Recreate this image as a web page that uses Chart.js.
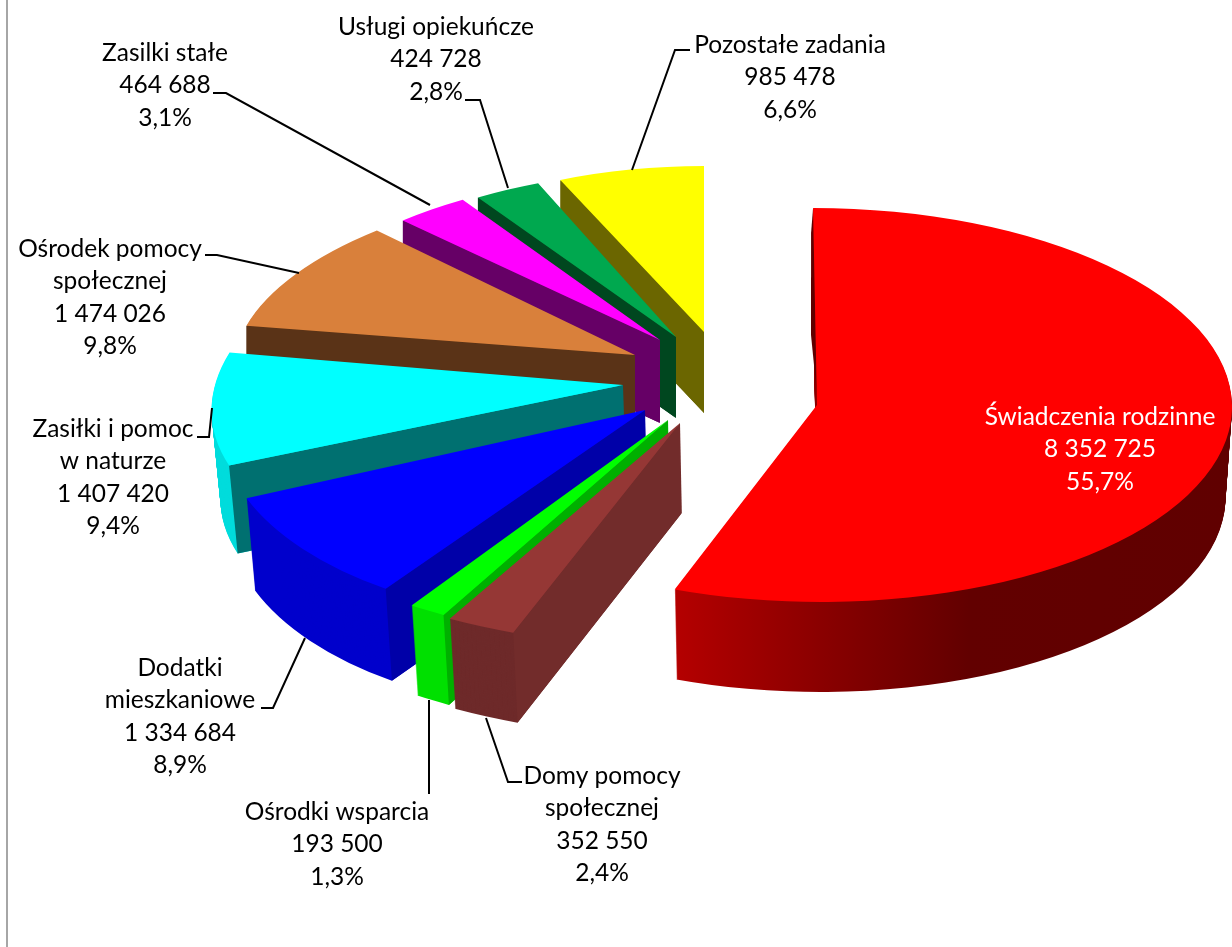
<!DOCTYPE html>
<html lang="pl">
<head>
    <meta charset="UTF-8">
    <title>Wydatki na zadania</title>
    <script src="https://cdn.jsdelivr.net/npm/chart.js"></script>
    <style>
        html, body { margin: 0; background: #fff; }
        canvas { display: block; }
    </style>
</head>
<body>
    <canvas id="pieChart" width="1232" height="947"></canvas>

    <script>
        const categories = ['Świadczenia rodzinne', 'Domy pomocy społecznej', 'Ośrodki wsparcia', 'Dodatki mieszkaniowe', 'Zasiłki i pomoc w naturze', 'Ośrodek pomocy społecznej', 'Zasilki stałe', 'Usługi opiekuńcze', 'Pozostałe zadania'];
        const values = [8352725, 352550, 193500, 1334684, 1407420, 1474026, 464688, 424728, 985478];

        // how the names break over lines in the labels
        const nameLines = [['Świadczenia rodzinne'], ['Domy pomocy', 'społecznej'], ['Ośrodki wsparcia'], ['Dodatki', 'mieszkaniowe'], ['Zasiłki i pomoc', 'w naturze'], ['Ośrodek pomocy', 'społecznej'], ['Zasilki stałe'], ['Usługi opiekuńcze'], ['Pozostałe zadania']];

        const topColors = ['#ff0000', '#953735', '#00ff00', '#0000ff', '#00ffff', '#d9803b', '#ff00ff', '#00a84f', '#ffff00'];
        const rimColors = [null, '#6e2a2a', '#00e000', '#0000cc', '#00dcdc', '#5a3317', '#660066', '#00471f', '#6b6600'];
        const cutColors = ['#600000', '#722c2b', '#00b000', '#0000a8', '#007070', '#5a3317', '#660066', '#00471f', '#6b6600'];
        const redWallStops = [[0.325, '#b40000'], [0.5, '#8a0000'], [0.68, '#620000'], [1, '#600000']];

        // 3d look of each slice: shift from chart centre, radii on screen, lean, wall height
        const shiftX = [117, -20, -32, -55, -77, -65, -40, -24, 4];
        const shiftY = [21, 39, 36, 26, 1, -29, -44, -47, -52];
        const radiusX = [415, 474, 462, 424, 408, 400, 383, 378, 358];
        const radiusY = [197, 224, 223, 215, 196, 176, 169, 168, 166];
        const shear = [0.02, 0, 0, -0.134, -0.272, -0.2, -0.115, -0.09, 0];
        const wallDepth = [90, 90, 90, 92, 88, 85, 83, 81, 81];
        const wallNarrow = [0.015, 0.015, 0.015, 0.015, 0.015, 0, 0, 0, 0];
        const drawOrder = [8, 7, 6, 5, 4, 3, 2, 1, 0];

        const labelX = [1100, 602, 337, 180, 113, 110, 165, 436, 790];
        const labelY = [417, 776, 812, 668, 429, 249, 53, 27, 45];
        const labelColors = ['#ffffff', '#000', '#000', '#000', '#000', '#000', '#000', '#000', '#000'];
        const leaders = [
            null,
            [[486, 718], [508, 782], [522, 782]],
            [[429, 700], [429, 794]],
            [[305, 638], [273, 708], [261, 708]],
            [[212, 408], [209, 437], [197, 437]],
            [[299, 273], [217, 255], [205, 255]],
            [[430, 205], [226, 93], [213, 93]],
            [[508, 188], [480, 100], [465, 100]],
            [[632, 170], [675, 50], [690, 50]]
        ];

        const vanishX = 800;

        function formatValue(v) {
            return String(v).replace(/\B(?=(\d{3})+(?!\d))/g, ' ');
        }

        const total = values.reduce((a, b) => a + b, 0);
        function formatPercent(v) {
            return (v / total * 100).toFixed(1).replace('.', ',') + '%';
        }

        function bottomX(x, i) {
            return vanishX + (x - vanishX) * (1 - wallNarrow[i]);
        }

        function stamp(ctx, arc, i, t, color) {
            const sx = radiusX[i] / arc.outerRadius;
            const sy = radiusY[i] / arc.outerRadius;
            const original = arc.options;
            arc.options = Object.assign({}, original, { backgroundColor: color });
            ctx.save();
            ctx.translate(vanishX, 0);
            ctx.scale(1 - wallNarrow[i] * t, 1);
            ctx.translate(-vanishX, t * wallDepth[i]);
            ctx.translate(arc.x + shiftX[i], arc.y + shiftY[i]);
            ctx.transform(1, 0, shear[i], 1, 0, 0);
            ctx.scale(sx, sy);
            ctx.translate(-arc.x, -arc.y);
            arc.draw(ctx);
            ctx.restore();
            arc.options = original;
        }

        function drawCut(ctx, arc, i, angle) {
            const ax = arc.x + shiftX[i];
            const ay = arc.y + shiftY[i];
            const dy = Math.sin(angle) * radiusY[i];
            const rx = ax + Math.cos(angle) * radiusX[i] + shear[i] * dy;
            const ry = ay + dy;
            const d = wallDepth[i];
            ctx.fillStyle = cutColors[i];
            ctx.beginPath();
            ctx.moveTo(ax, ay);
            ctx.lineTo(rx, ry);
            ctx.lineTo(bottomX(rx, i), ry + d);
            ctx.lineTo(bottomX(ax, i), ay + d);
            ctx.closePath();
            ctx.fill();
        }

        const pie3d = {
            id: 'pie3d',
            beforeDatasetsDraw(chart) {
                const ctx = chart.ctx;
                const arcs = chart.getDatasetMeta(0).data;
                drawOrder.forEach(i => {
                    const arc = arcs[i];
                    let wall = rimColors[i];
                    if (!wall) {
                        wall = ctx.createLinearGradient(arc.x - arc.outerRadius, 0, arc.x + arc.outerRadius, 0);
                        redWallStops.forEach(s => wall.addColorStop(s[0], s[1]));
                    }
                    for (let d = wallDepth[i]; d > 0; d--) {
                        stamp(ctx, arc, i, d / wallDepth[i], wall);
                    }
                    if (Math.cos(arc.startAngle) < -0.01) drawCut(ctx, arc, i, arc.startAngle);
                    if (Math.cos(arc.endAngle) > 0.01) drawCut(ctx, arc, i, arc.endAngle);
                    if (i === 0) {
                        // thin dark sliver behind the first edge of the big slice
                        const ax = arc.x + shiftX[0];
                        const ay = arc.y + shiftY[0];
                        const rimX = ax - shear[0] * radiusY[0];
                        ctx.fillStyle = cutColors[0];
                        ctx.beginPath();
                        ctx.moveTo(ax, ay - 10);
                        ctx.lineTo(ax - 6, ay - 70);
                        ctx.lineTo(rimX - 2, ay - radiusY[0] + 25);
                        ctx.lineTo(rimX, ay - radiusY[0]);
                        ctx.closePath();
                        ctx.fill();
                    }
                    stamp(ctx, arc, i, 0, topColors[i]);
                });
                return false;
            },
            afterDraw(chart) {
                const ctx = chart.ctx;
                ctx.save();

                // grey frame edge on the left
                ctx.strokeStyle = '#a6a6a6';
                ctx.lineWidth = 2;
                ctx.beginPath();
                ctx.moveTo(7, 0);
                ctx.lineTo(7, 947);
                ctx.stroke();

                ctx.strokeStyle = '#000';
                ctx.lineWidth = 2;
                leaders.forEach(points => {
                    if (!points) return;
                    ctx.beginPath();
                    points.forEach((p, n) => n ? ctx.lineTo(p[0], p[1]) : ctx.moveTo(p[0], p[1]));
                    ctx.stroke();
                });

                ctx.font = '24.5px Lato';
                ctx.textAlign = 'center';
                ctx.textBaseline = 'middle';
                values.forEach((v, i) => {
                    const lines = nameLines[i].concat([formatValue(v), formatPercent(v)]);
                    ctx.fillStyle = labelColors[i];
                    lines.forEach((text, n) => ctx.fillText(text, labelX[i], labelY[i] + n * 32.3));
                });
                ctx.restore();
            }
        };

        new Chart(document.getElementById('pieChart'), {
            type: 'pie',
            data: {
                labels: categories,
                datasets: [{ data: values, backgroundColor: topColors, borderWidth: 0 }]
            },
            options: {
                responsive: false,
                animation: false,
                radius: 400,
                layout: { padding: { left: 168, bottom: 179 } },
                plugins: { legend: { display: false }, tooltip: { enabled: false } }
            },
            plugins: [pie3d]
        });
    </script>
</body>
</html>
